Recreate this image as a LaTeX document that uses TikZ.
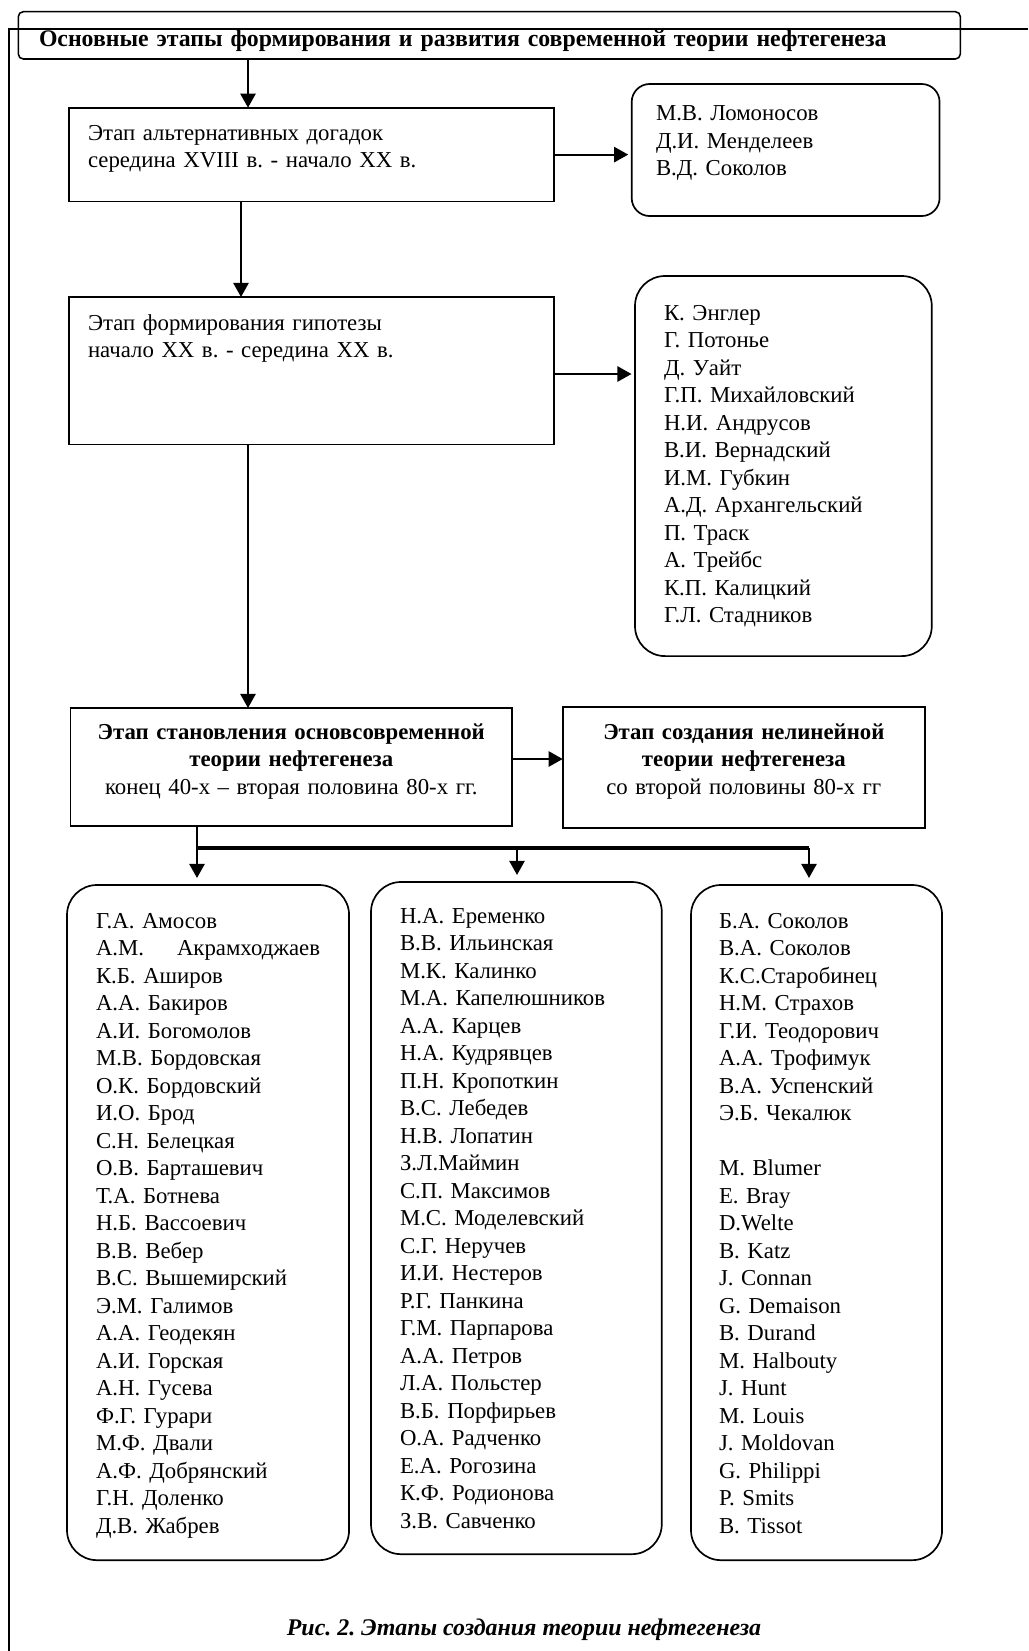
\documentclass[tikz,border=0pt]{standalone}
\usepackage{fontspec}
\setmainfont{Liberation Serif}
\usetikzlibrary{arrows.meta}
\frenchspacing

\begin{document}
\begin{tikzpicture}[
    x=0.025cm, y=-0.025cm,
    font=\fontsize{16.2pt}{19.56pt}\selectfont,
    every node/.style={anchor=base west, inner ysep=0pt, outer sep=0pt},
    box/.style={rectangle, draw, line width=1.3pt, align=left},
    list/.style={rectangle, draw, line width=1.2pt, rounded corners=0.75cm, align=left},
    arr/.style={-{Triangle[length=0.35cm,width=0.38cm]}, line width=1.3pt}
]
  \useasboundingbox (0,0) rectangle (1028,1651);

  \node[box, rounded corners=0.125cm, line width=1.1pt, inner xsep=0.5175cm, text width=22.51cm,
        text height=0.8575cm, text depth=0.325cm, font=\fontsize{16.9pt}{19.56pt}\selectfont\bfseries]
        (title) at (18.3,46) {Основные этапы формирования и развития современной теории нефтегенеза};
  \draw[line width=1.3pt] (9,1651) -- (9,29) -- (1028,29);

  \node[box, inner xsep=0.4675cm, text width=11.1825cm, text height=0.8075cm, text depth=1.5375cm]
        (box1) at (69.3,140) {Этап альтернативных догадок\\середина XVIII в. - начало XX в.};
  \node[list, rounded corners=0.45cm, inner xsep=0.6075cm, text width=6.48cm, text height=0.9125cm,
        text depth=2.3875cm] (early) at (631.7,120.5) {М.В. Ломоносов\\Д.И. Менделеев\\В.Д. Соколов};

  \node[box, inner xsep=0.4675cm, text width=11.1825cm, text height=0.825cm, text depth=2.8625cm]
        (box2) at (69.3,330) {Этап формирования гипотезы\\начало XX в. - середина XX в.};
  \node[list, inner xsep=0.725cm, text width=5.9675cm, text height=1.1cm, text depth=8.4cm]
        (hyp) at (635,320) {К. Энглер\\Г. Потонье\\Д. Уайт\\Г.П. Михайловский\\Н.И. Андрусов\\
        В.И. Вернадский\\И.М. Губкин\\А.Д. Архангельский\\П. Траск\\А. Трейбс\\К.П. Калицкий\\
        Г.Л. Стадников};

  \node[box, align=center, inner xsep=0.25cm, text width=10.5375cm, text height=0.775cm, text depth=2.175cm]
        (box3) at (70.5,739) {\textbf{Этап становления основсовременной}\\\textbf{теории нефтегенеза}\\
        конец 40-х – вторая половина 80-х гг.};
  \node[box, align=center, inner xsep=0.25cm, text width=8.555cm, text height=0.8cm, text depth=2.225cm]
        (box4) at (562.7,739) {\textbf{Этап создания нелинейной}\\\textbf{теории нефтегенеза}\\
        со второй половины 80-х гг};

  \node[list, inner xsep=0.725cm, text width=5.6cm, text height=1.075cm, text depth=15.8cm]
        (c1) at (67,928) {Г.А. Амосов\\А.М.\hspace{0pt plus 1fill}Акрамходжаев\\К.Б. Аширов\\
        А.А. Бакиров\\А.И. Богомолов\\М.В. Бордовская\\О.К. Бордовский\\И.О. Брод\\С.Н. Белецкая\\
        О.В. Барташевич\\Т.А. Ботнева\\Н.Б. Вассоевич\\В.В. Вебер\\В.С. Вышемирский\\Э.М. Галимов\\
        А.А. Геодекян\\А.И. Горская\\А.Н. Гусева\\Ф.Г. Гурари\\М.Ф. Двали\\А.Ф. Добрянский\\
        Г.Н. Доленко\\Д.В. Жабрев};
  \node[list, inner xsep=0.725cm, text width=5.8175cm, text height=1.025cm, text depth=15.775cm]
        (c2) at (371,923) {Н.А. Еременко\\В.В. Ильинская\\М.К. Калинко\\М.А. Капелюшников\\
        А.А. Карцев\\Н.А. Кудрявцев\\П.Н. Кропоткин\\В.С. Лебедев\\Н.В. Лопатин\\З.Л.Маймин\\
        С.П. Максимов\\М.С. Моделевский\\С.Г. Неручев\\И.И. Нестеров\\Р.Г. Панкина\\
        Г.М. Парпарова\\А.А. Петров\\Л.А. Польстер\\В.Б. Порфирьев\\О.А. Радченко\\
        Е.А. Рогозина\\К.Ф. Родионова\\З.В. Савченко};
  \node[list, inner xsep=0.7cm, text width=4.875cm, text height=1.075cm, text depth=15.8cm]
        (c3) at (691,928) {Б.А. Соколов\\В.А. Соколов\\К.С.Старобинец\\Н.М. Страхов\\
        Г.И. Теодорович\\А.А. Трофимук\\В.А. Успенский\\Э.Б. Чекалюк\\[0.6875cm]
        M. Blumer\\E. Bray\\D.Welte\\B. Katz\\J. Connan\\G. Demaison\\B. Durand\\M. Halbouty\\
        J. Hunt\\M. Louis\\J. Moldovan\\G. Philippi\\P. Smits\\B. Tissot};

  \node[anchor=base, font=\fontsize{17pt}{19.56pt}\selectfont\bfseries\itshape]
        (caption) at (524,1635) {Рис. 2. Этапы создания теории нефтегенеза};

  \draw[arr] (248,0 |- title.south) -- (248,0 |- box1.north);
  \draw[arr, shorten >=2.5pt] (box1.east) -- (early.west |- box1.east);
  \draw[arr] (241,0 |- box1.south) -- (241,0 |- box2.north);
  \draw[arr, shorten >=2.5pt] (box2.east |- 0,374) -- (hyp.west |- 0,374);
  \draw[arr] (248,0 |- box2.south) -- (248,0 |- box3.north);
  \draw[arr] (box3.east |- 0,759) -- (box4.west |- 0,759);
  \coordinate (fork) at (197,848);
  \draw[line width=1.3pt] (fork |- box3.south) -- (fork);
  \draw[line width=2.4pt] (fork) -- (809,848);
  \draw[arr, shorten >=5pt] (fork) -- (fork |- c1.north);
  \draw[arr, shorten >=5pt] (517,848) -- (517,0 |- c2.north);
  \draw[arr, shorten >=5pt] (809,848) -- (809,0 |- c3.north);
\end{tikzpicture}
\end{document}
